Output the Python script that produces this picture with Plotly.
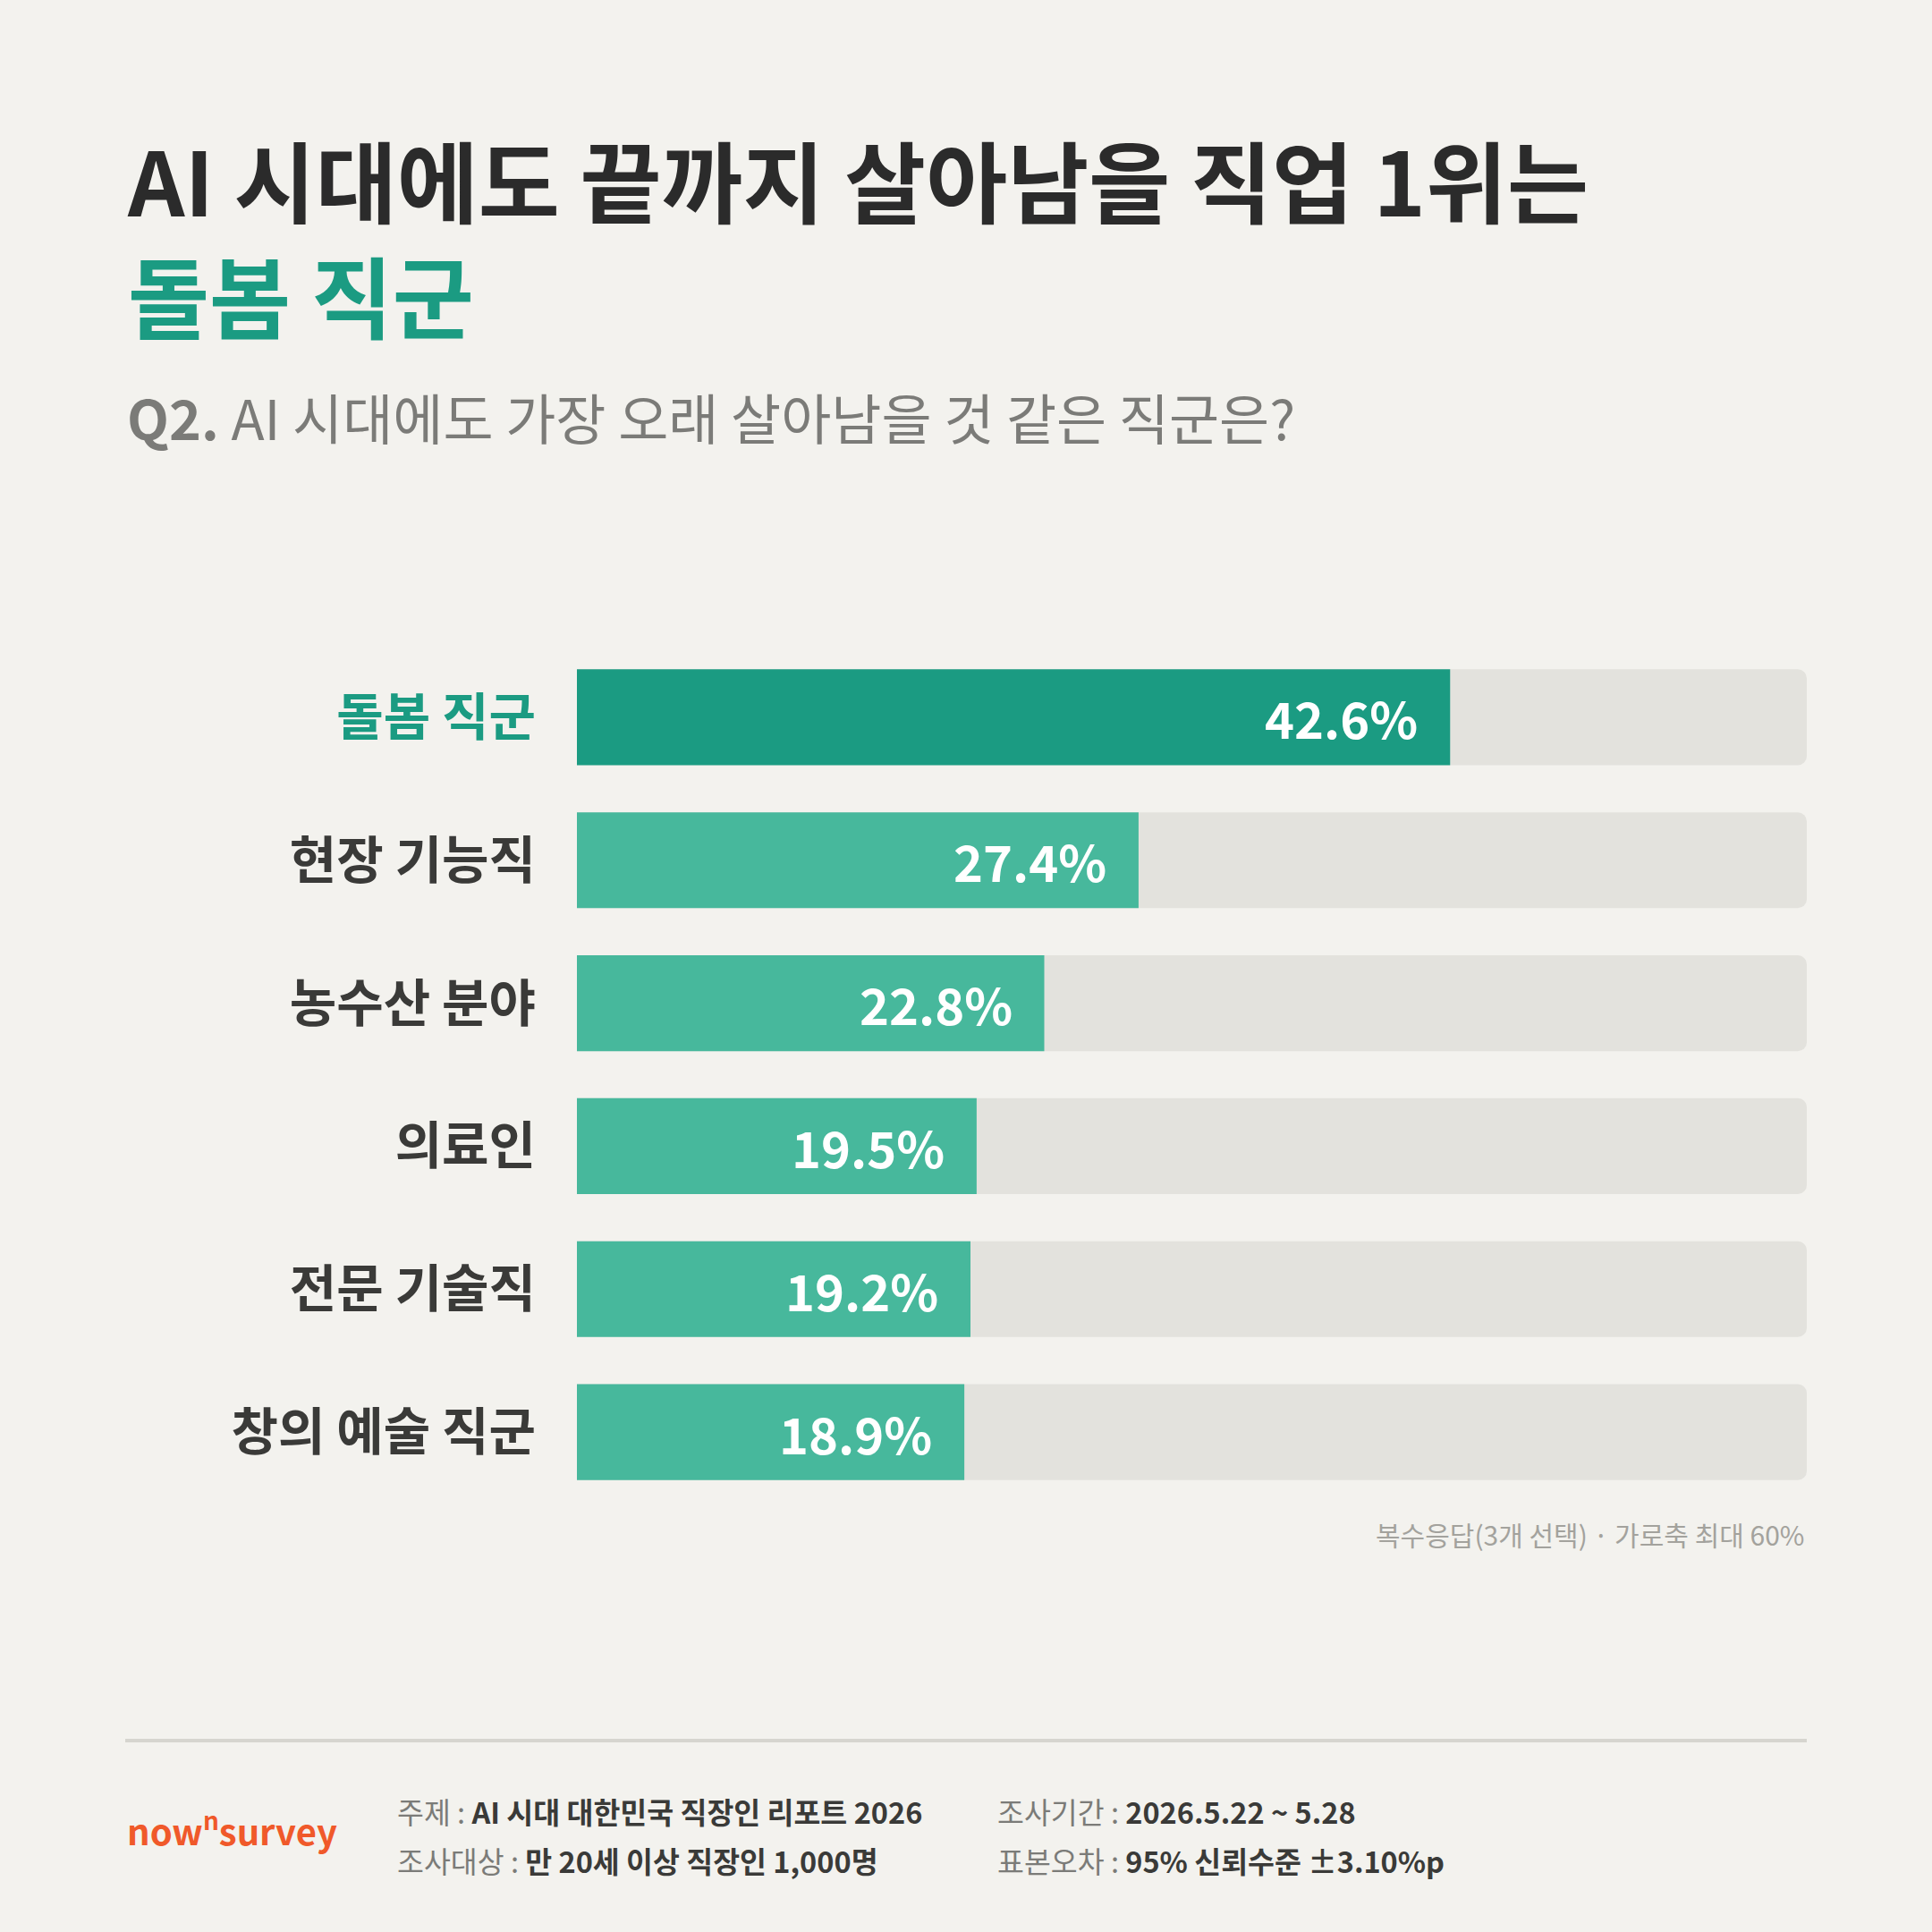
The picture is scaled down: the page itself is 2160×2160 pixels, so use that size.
import plotly.graph_objects as go

# data
categories = ["돌봄 직군", "현장 기능직", "농수산 분야", "의료인", "전문 기술직", "창의 예술 직군"]
values = [42.6, 27.4, 22.8, 19.5, 19.2, 18.9]
axis_max = 60

title_line1 = "AI 시대에도 끝까지 살아남을 직업 1위는"
title_line2 = "돌봄 직군"
subtitle_q = "Q2."
subtitle_text = "AI 시대에도 가장 오래 살아남을 것 같은 직군은?"
note_text = "복수응답(3개 선택) · 가로축 최대 60%"
footer_left = [("주제", "AI 시대 대한민국 직장인 리포트 2026"), ("조사대상", "만 20세 이상 직장인 1,000명")]
footer_right = [("조사기간", "2026.5.22 ~ 5.28"), ("표본오차", "95% 신뢰수준 ±3.10%p")]

W = H = 2160
BG = "#f3f2ee"
GREEN_DARK = "#1b9b82"
GREEN = "#47b89c"
TRACK = "#e3e2dd"
DARK = "#2b2b2b"
LABEL = "#3a3a38"
GRAY = "#7b7b78"
FONT = "Noto Sans CJK KR"

ML, MR, MT, MB = 645, 140, 722, 479
PW = W - ML - MR
PH = H - MT - MB


def px(x):
    return (x - ML) / PW


def py(y):
    return 1 - (y - MT) / PH


fig = go.Figure()

# background track
fig.add_trace(go.Bar(
    y=categories, x=[axis_max] * len(categories), orientation="h",
    marker=dict(color=TRACK, cornerradius=10, line_width=0),
    hoverinfo="skip", showlegend=False, width=0.67,
))
# values
fig.add_trace(go.Bar(
    y=categories, x=values, orientation="h",
    marker=dict(color=[GREEN_DARK] + [GREEN] * (len(values) - 1), cornerradius=10, line_width=0),
    showlegend=False, width=0.67,
))

tick_text = []
for i, c in enumerate(categories):
    if i == 0:
        tick_text.append(f"<span style='color:{GREEN_DARK}'><b>{c}</b></span>")
    else:
        tick_text.append(f"<b>{c}</b>")

fig.update_layout(
    width=W, height=H,
    margin=dict(l=ML, r=MR, t=MT, b=MB, pad=0),
    paper_bgcolor=BG, plot_bgcolor=BG,
    barmode="overlay",
    font=dict(family=FONT, color=DARK),
    xaxis=dict(range=[0, axis_max], visible=False, fixedrange=True),
    yaxis=dict(
        categoryorder="array", categoryarray=categories, autorange="reversed",
        tickmode="array", tickvals=categories, ticktext=tick_text,
        tickfont=dict(family=FONT, size=57, color=LABEL),
        showgrid=False, zeroline=False, showline=False, ticks="",
        ticklabelstandoff=45,
    ),
)

# value labels
for c, v in zip(categories, values):
    fig.add_annotation(
        x=v, y=c, xref="x", yref="y", text=f"<b>{v:.1f}%</b>",
        xanchor="right", yanchor="middle", xshift=-34, showarrow=False,
        font=dict(family=FONT, size=56, color="white"),
    )

# title (two lines)
fig.add_annotation(
    x=px(140), y=py(264), xref="paper", yref="paper", xanchor="left", yanchor="middle",
    align="left",
    text=f"<b>{title_line1}</b><br><b><span style='color:{GREEN_DARK}'>{title_line2}</span></b>",
    showarrow=False,
    font=dict(family=FONT, size=99, color=DARK, weight=900),
)
fig.add_annotation(
    x=px(140), y=py(466), xref="paper", yref="paper", xanchor="left", yanchor="middle",
    text=f"<b>{subtitle_q}</b> {subtitle_text}", showarrow=False,
    font=dict(family=FONT, size=61, color=GRAY),
)

# note
fig.add_annotation(
    x=px(2020), y=py(1715), xref="paper", yref="paper", xanchor="right", yanchor="middle",
    text=note_text, showarrow=False,
    font=dict(family=FONT, size=30, color="#a3a29d"),
)

# divider
fig.add_shape(
    type="line", xref="paper", yref="paper",
    x0=px(140), x1=px(2020), y0=py(1946), y1=py(1946),
    line=dict(color="#d6d5cf", width=4),
)

# logo
fig.add_annotation(
    x=px(140), y=py(2044), xref="paper", yref="paper", xanchor="left", yanchor="middle",
    text="<b>now<sup>n</sup>survey</b>", showarrow=False,
    font=dict(family=FONT, size=40, color="#f0592a"),
)

# footer
for i, (k, v) in enumerate(footer_left):
    fig.add_annotation(
        x=px(442), y=py(2024 + 55 * i), xref="paper", yref="paper", xanchor="left", yanchor="middle",
        text=f"<span style='color:{GRAY}'>{k} : </span><b>{v}</b>", showarrow=False,
        font=dict(family=FONT, size=32.5, color=LABEL),
    )
for i, (k, v) in enumerate(footer_right):
    fig.add_annotation(
        x=px(1113), y=py(2024 + 55 * i), xref="paper", yref="paper", xanchor="left", yanchor="middle",
        text=f"<span style='color:{GRAY}'>{k} : </span><b>{v}</b>", showarrow=False,
        font=dict(family=FONT, size=32.5, color=LABEL),
    )

fig.write_html("out.html", config={"displayModeBar": False},
               post_script="document.body.style.margin='0';")
